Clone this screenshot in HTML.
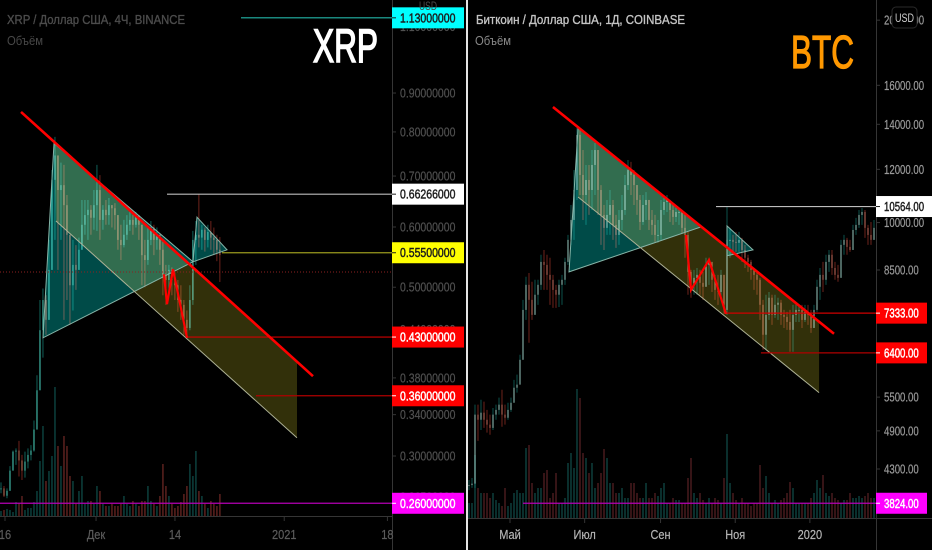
<!DOCTYPE html>
<html lang="ru">
<head>
<meta charset="utf-8">
<title>XRP и BTC</title>
<style>
html,body{margin:0;padding:0;background:#000;width:932px;height:550px;overflow:hidden}
svg{display:block;font-family:"Liberation Sans","DejaVu Sans",sans-serif}
.blend{mix-blend-mode:screen}
</style>
</head>
<body>
<svg id="chart-root" width="932" height="550" viewBox="0 0 932 550" xmlns="http://www.w3.org/2000/svg">
  <defs>
    <clipPath id="clip-xrp"><rect x="0" y="0" width="392" height="516"/></clipPath>
    <clipPath id="clip-btc"><rect x="468" y="0" width="408" height="518"/></clipPath>
  </defs>
  <rect x="0" y="0" width="932" height="550" fill="#000"/>
  <g id="xrp-panel"></g>
  <g id="btc-panel"></g>
  <rect x="466" y="0" width="2" height="550" fill="#e4e4e4"/>

  <text x="7" y="24" font-size="13" fill="#4c4c4c" stroke="#4c4c4c" stroke-width="0.35" textLength="178" lengthAdjust="spacingAndGlyphs">XRP / Доллар США, 4Ч, BINANCE</text>
  <text x="7" y="45" font-size="13" fill="#484848" textLength="36" lengthAdjust="spacingAndGlyphs">Объём</text>
  <text x="313" y="62" font-size="47" fill="#fff" stroke="#fff" stroke-width="1.6" textLength="65" lengthAdjust="spacingAndGlyphs">XRP</text>

  <text x="476" y="24" font-size="13" fill="#c4c4c4" stroke="#c4c4c4" stroke-width="0.35" textLength="209" lengthAdjust="spacingAndGlyphs">Биткоин / Доллар США, 1Д, COINBASE</text>
  <text x="475" y="45" font-size="13" fill="#8a8a8a" textLength="36" lengthAdjust="spacingAndGlyphs">Объём</text>
  <text x="791" y="68" font-size="46" fill="#ff9800" stroke="#ff9800" stroke-width="1.2" textLength="63" lengthAdjust="spacingAndGlyphs">BTC</text>

  <text x="419" y="10" font-size="12" fill="#4c4c4c" textLength="18" lengthAdjust="spacingAndGlyphs">USD</text>
  <g>
    <rect x="892" y="7" width="25" height="21" rx="4" fill="#000" stroke="#2a2a2a"/>
    <text x="895" y="22" font-size="12" fill="#cfcfcf" textLength="19" lengthAdjust="spacingAndGlyphs">USD</text>
  </g>
</svg>

<script>
// ===== XRP data (4H chart, sampled candles) =====
const xrpClose = [
.272,.266,.270,.287,.304,.305,.296,.287,.295,.301,
.305,.325,.366,.439,.481,.453,.527,.692,.745,.671,
.681,.641,.586,.503,.535,.527,.560,.604,.622,.632,
.617,.641,.671,.613,.632,.622,.641,.635,.622,.577,
.568,.586,.604,.613,.604,.622,.604,.551,.543,.577,
.599,.577,.586,.560,.519,.511,.527,.511,.503,.481,
.474,.453,.442,.481,.577,.586,.581,.595,.577,.591,
.581,.577,.560,.551];
const xrpHigh = [
.277,.274,.272,.291,.305,.307,.314,.301,.304,.307,
.310,.334,.383,.481,.498,.488,.577,.713,.788,.735,
.729,.724,.661,.577,.577,.568,.581,.651,.651,.651,
.641,.671,.724,.702,.641,.651,.655,.641,.645,.622,
.604,.613,.622,.628,.622,.628,.617,.604,.577,.599,
.611,.604,.599,.586,.577,.535,.535,.531,.523,.511,
.503,.481,.466,.503,.593,.611,.663,.604,.599,.604,
.611,.599,.586,.582];
const xrpLow = [
.268,.265,.264,.270,.287,.292,.282,.279,.281,.289,
.296,.304,.329,.396,.404,.433,.453,.527,.577,.527,
.577,.453,.481,.446,.466,.496,.527,.568,.586,.577,
.586,.595,.593,.577,.595,.604,.604,.599,.595,.560,
.543,.564,.577,.593,.586,.599,.577,.503,.500,.535,
.568,.551,.560,.535,.488,.474,.496,.488,.481,.464,
.453,.433,.429,.439,.474,.535,.564,.560,.557,.564,
.560,.551,.541,.508];
const xrpVolume = [
5,6,7,6,4,14,13,20,6,8,
8,14,25,55,90,35,45,60,129,70,
50,80,70,40,35,12,25,40,12,15,
15,12,30,25,12,10,10,12,10,10,
12,20,12,10,15,12,10,15,15,30,
15,12,10,20,52,30,20,12,8,10,
14,22,30,52,40,65,25,20,12,8,
15,12,10,22];
const xrpPriceTicks = [1.1,0.9,0.8,0.7,0.6,0.5,0.44,0.38,0.34,0.3,0.265];
const xrpTimeLabels = ["16","Дек","14","2021","18"];
const xrpTimeDays = [0,15,28,46,63];
const xrpLevels = [1.13,0.66266,0.555,0.43,0.36,0.26];
const xrpLevelFromDays = [38.88,26.69,35.75,29.98,41.35,-1];
const xrpLevelNames = ["cyan","white","yellow","red-upper","red-lower","magenta"];
const xrpLastPrice = 0.5235;
const xrpTrendDays = [2.64,50.74];
const xrpTrendPrices = [0.850,0.382];
const xrpTriangleDays = [8.07,6.26,30.97];
const xrpTrianglePrices = [0.773,0.429,0.540];
const xrpChannelDays = [8.07,48.1,48.1,8.40];
const xrpChannelPrices = [0.773,0.399,0.317,0.611];
const xrpFlagDays = [31.63,36.57,30.97];
const xrpFlagPrices = [0.618,0.560,0.540];
const xrpZigzagDays = [26.19,26.69,27.68,29.98];
const xrpZigzagPrices = [0.520,0.475,0.528,0.429];

// ===== BTC data (1D chart, sampled candles) =====
const btcClose = [
4070,4090,5180,5090,5215,5090,5005,4950,5180,5265,
5360,5180,5125,5265,5395,5680,5740,6250,7415,8080,
7675,7290,7810,8080,8740,8650,8360,8220,7940,7810,
8080,8220,8740,9425,10090,11180,13500,11770,10990,11570,
11180,12180,12820,11180,10265,9820,10265,10620,9920,9585,
10090,10440,11370,11970,11770,11370,10805,10020,10620,10805,
10090,9920,9585,9585,10440,10730,10805,10440,10195,10370,
10370,9820,9585,8445,8080,8275,8360,8135,8025,8650,
8740,8220,7940,7885,8360,7415,9425,9425,9360,9330,
9425,9105,8865,8740,8505,8360,8220,7545,6810,7290,
7730,7290,7545,7600,7290,7240,7115,6925,7290,7415,
7415,7165,7365,7290,6970,7415,8025,8360,8220,8740,
8955,8560,8360,8275,9265,9425,9200,9105,9750,9920,
10265,10370,9820,9585,9425,9820];
const btcHigh = [
4141,4170,5360,5360,5450,5415,5265,5180,5300,5360,
5490,5640,5360,5395,5490,5835,5940,6360,7675,8305,
8415,8165,8220,8220,8955,9105,8955,8865,8360,8080,
8220,8360,8865,9585,10620,11970,13830,13730,12820,12180,
12180,12820,13130,12820,11370,10620,10805,11180,10805,10265,
10440,10990,11770,12390,12310,11970,11370,10990,10990,11100,
10805,10440,10265,10090,10805,10990,10990,10805,10620,10620,
10510,10370,10265,9685,8505,8505,8560,8505,8445,8865,
8865,8740,8360,8360,8505,8360,10585,9820,9585,9685,
9685,9490,9265,8955,8800,8560,8445,8275,7675,7810,
7885,7810,7810,7730,7675,7415,7365,7415,7545,7600,
7545,7545,7545,7545,7415,7545,8220,8560,8740,8955,
9105,9105,8740,8650,9425,9585,9490,9425,9920,10160,
10440,10510,10440,9920,10020,10090];
const btcLow = [
4000,4030,4030,4735,4915,4950,4870,4835,4915,5090,
5180,4970,5005,5090,5230,5545,5585,5940,6360,7165,
6625,7165,7415,7545,7940,7940,7940,7545,7465,7465,
7490,7545,8080,8650,9265,9425,10805,10990,10090,9920,
10265,10440,10990,10265,9265,9105,9585,9585,9425,9170,
9265,9750,10265,11180,10990,10620,10265,9750,9920,10090,
9750,9585,9360,9330,9425,10265,10370,10020,9920,10020,
9920,9650,8865,7810,7730,7810,7810,7810,7675,8080,
8080,7885,7675,7545,7675,7315,7290,8865,8955,9045,
9045,8740,8560,8445,8220,7940,7810,7165,6470,6470,
7165,7045,7215,7165,7045,6970,6925,6425,6425,7115,
7115,6970,7115,7045,6855,7165,7365,7675,7885,8080,
8445,8360,8220,8165,8360,8955,8955,9045,9105,9585,
9820,9920,9490,9265,9265,9425];
const btcVolume = [
15,15,63,30,25,25,25,20,25,18,
15,12,30,12,15,25,28,25,25,70,
73,35,25,30,30,45,48,20,25,45,
15,15,20,55,65,50,129,120,65,60,
45,55,30,35,45,69,60,35,35,25,
25,30,20,20,35,35,25,20,20,35,
20,20,25,22,30,35,15,15,20,18,
18,15,15,40,60,25,20,25,18,15,
20,15,20,18,15,40,84,35,25,18,
15,20,15,15,12,15,15,53,30,42,
25,15,18,15,18,20,25,36,30,15,
15,15,15,15,20,25,38,30,43,25,
22,25,20,18,15,18,18,25,20,20,
22,20,22,25,20,20];
const btcPriceTicks = [20000,16000,14000,12000,10000,8500,5500,4900,4300];
const btcTimeLabels = ["Май","Июл","Сен","Ноя","2020"];
const btcTimeDays = [0,61,123,184,245];
const btcLevels = [10564,7333,6400,3824];
const btcLevelFromDays = [168.3,176.5,205,10.6];
const btcLevelNames = ["white","red-upper","red-lower","magenta"];
const btcTrendDays = [35.1,264.7];
const btcTrendPrices = [14857,6833];
const btcTriangleDays = [55.6,48.2,156];
const btcTrianglePrices = [13830,8445,9850];
const btcChannelDays = [55.6,252.5,252.5,55.6];
const btcChannelPrices = [13830,7115,5585,10915];
const btcFlagDays = [177.3,198.5,177.3];
const btcFlagPrices = [9885,9105,8925];
const btcZigzagDays = [143.8,147.9,162.6,176.5];
const btcZigzagPrices = [9585,7940,8800,7315];

// ===== drawing =====
const NS = "http://www.w3.org/2000/svg";
const levelStyle = {
  "cyan":      {box:"#00ffff", text:"#1c1c1c", line:"#22b5a8"},
  "white":     {box:"#ffffff", text:"#1c1c1c", line:"#bdbdbd"},
  "yellow":    {box:"#ffff00", text:"#1c1c1c", line:"#9a9a1e"},
  "red-upper": {box:"#ff0000", text:"#ffffff", line:"#d00000"},
  "red-lower": {box:"#ff0000", text:"#ffffff", line:"#b00000"},
  "magenta":   {box:"#ff00ff", text:"#ffffff", line:"#b400b4"}
};
function node(parent, tag, attrs) {
  const el = document.createElementNS(NS, tag);
  for (const k in attrs) el.setAttribute(k, attrs[k]);
  parent.appendChild(el);
  return el;
}
function label(parent, x, y, str, size, color, anchor, sx, weight) {
  const el = node(parent, "text", {
    transform: "translate(" + x + "," + y + ") scale(" + sx + ",1)",
    "font-size": size, fill: color, "text-anchor": anchor,
    stroke: color, "stroke-width": weight
  });
  el.textContent = str;
  return el;
}
function pointsOf(days, prices, xs, ys) {
  return days.map(function (d, i) { return xs(d).toFixed(1) + "," + ys(prices[i]).toFixed(1); }).join(" ");
}

function drawPanel(c) {
  const root = document.getElementById(c.panelId);
  const xs = function (d) { return c.x0 + c.pxPerDay * d; };
  const ys = function (p) { return c.yRef - c.pxPerLog * Math.log(p / c.priceRef); };
  const vs = function (v) { return v * c.volScale; };

  const tickLayer = node(root, "g", {});
  
  
  c.priceTicks.forEach(function (p) {
    const t = node(tickLayer, "line", {x1: c.axisX, x2: c.axisX + 4, y1: ys(p), y2: ys(p), stroke: c.axisColor});
    
    
    const l = label(tickLayer, c.axisX + 8, ys(p) + 4.5, p.toFixed(c.decimals), 12.5, c.tickColor, "start", c.tickSx, 0.2);
    
    
  });

  const plot = node(root, "g", {"clip-path": "url(#" + c.clipId + ")"});
  
  

  c.volume.forEach(function (v, i) {
    const d = c.startDay + i * c.stepDay;
    const open = i ? c.close[i - 1] : c.close[i];
    const up = c.close[i] >= open;
    const bar = node(plot, "rect", {
      x: xs(d) - c.volWidth / 2, y: c.baseY - vs(v), width: c.volWidth, height: vs(v),
      fill: up ? c.volUp : c.volDown
    });
    
    
  });

  c.close.forEach(function (cl, i) {
    const d = c.startDay + i * c.stepDay;
    const open = i ? c.close[i - 1] : cl;
    const up = cl >= open;
    const x = xs(d);
    const wick = node(plot, "line", {x1: x, x2: x, y1: ys(c.high[i]), y2: ys(c.low[i]), stroke: up ? c.wickUp : c.wickDown, "stroke-width": 0.8});
    
    
    const top = Math.min(ys(open), ys(cl));
    const h = Math.max(1, Math.abs(ys(open) - ys(cl)));
    const body = node(plot, "rect", {x: x - 0.6, y: top, width: 1.2, height: h, fill: up ? c.bodyUp : c.bodyDown});
    
    
  });

  const channel = node(plot, "polygon", {points: pointsOf(c.channelDays, c.channelPrices, xs, ys), fill: "#32300a", "class": "blend"});
  
  
  const tri = node(plot, "polygon", {points: pointsOf(c.triangleDays, c.trianglePrices, xs, ys), fill: "#004b48", "class": "blend"});
  
  
  const flag = node(plot, "polygon", {points: pointsOf(c.flagDays, c.flagPrices, xs, ys), fill: "#004b48", "class": "blend"});
  
  

  const triEdge = node(plot, "polygon", {points: pointsOf(c.triangleDays, c.trianglePrices, xs, ys), fill: "none", stroke: "#86b5a8", "stroke-width": 1});
  
  
  const flagEdge = node(plot, "polygon", {points: pointsOf(c.flagDays, c.flagPrices, xs, ys), fill: "none", stroke: "#86b5a8", "stroke-width": 1});
  
  
  const chEdge = node(plot, "line", {
    x1: xs(c.channelDays[3]), y1: ys(c.channelPrices[3]),
    x2: xs(c.channelDays[2]), y2: ys(c.channelPrices[2]),
    stroke: "#aeb296", "stroke-width": 1
  });
  
  

  if (c.lastPrice) {
    const last = node(plot, "line", {x1: 0, x2: c.axisX, y1: ys(c.lastPrice), y2: ys(c.lastPrice), stroke: "#8c2020", "stroke-width": 1, "stroke-dasharray": "1 2"});
    
    
  }

  c.levels.forEach(function (p, i) {
    const st = levelStyle[c.levelNames[i]];
    const ln = node(plot, "line", {x1: xs(c.levelFrom[i]), x2: c.axisX, y1: ys(p), y2: ys(p), stroke: st.line, "stroke-width": 1.2});
    
    
  });

  const trend = node(plot, "line", {
    x1: xs(c.trendDays[0]), y1: ys(c.trendPrices[0]),
    x2: xs(c.trendDays[1]), y2: ys(c.trendPrices[1]),
    stroke: "#ff0000", "stroke-width": 2.6
  });
  
  
  const zig = node(plot, "polyline", {points: pointsOf(c.zigzagDays, c.zigzagPrices, xs, ys), fill: "none", stroke: "#ff0000", "stroke-width": 2.2});
  
  

  const vAxis = node(root, "line", {x1: c.axisX + .5, x2: c.axisX + .5, y1: 0, y2: 550, stroke: c.axisColor});
  
  
  const hAxis = node(root, "line", {x1: c.panelLeft, x2: c.panelRight, y1: c.baseY + .5, y2: c.baseY + .5, stroke: c.axisColor});
  
  

  c.timeDays.forEach(function (d, i) {
    const m = node(root, "line", {x1: xs(d), x2: xs(d), y1: c.baseY, y2: c.baseY + 5, stroke: c.axisColor});
    
    
    const l = label(root, xs(d), 539, c.timeLabels[i], 12.5, c.timeColor, "middle", 0.88, 0.2);
    
    
  });

  c.levels.forEach(function (p, i) {
    const st = levelStyle[c.levelNames[i]];
    const y = ys(p);
    const box = node(root, "rect", {x: c.axisX, y: y - 10.5, width: c.labelWidths[i], height: 21, fill: st.box});
    
    
    const dash = node(root, "line", {x1: c.axisX, x2: c.axisX + 4, y1: y, y2: y, stroke: st.text});
    
    
    const t = label(root, c.axisX + 8, y + 4.5, p.toFixed(c.decimals), 12.5, st.text, "start", c.tickSx, 0.45);
    
    
  });
}

drawPanel({
  key: "xrp", panelId: "xrp-panel", clipId: "clip-xrp",
  close: xrpClose, high: xrpHigh, low: xrpLow, volume: xrpVolume,
  priceTicks: xrpPriceTicks, timeLabels: xrpTimeLabels, timeDays: xrpTimeDays,
  levels: xrpLevels, levelFrom: xrpLevelFromDays, levelNames: xrpLevelNames,
  lastPrice: xrpLastPrice,
  trendDays: xrpTrendDays, trendPrices: xrpTrendPrices,
  triangleDays: xrpTriangleDays, trianglePrices: xrpTrianglePrices,
  channelDays: xrpChannelDays, channelPrices: xrpChannelPrices,
  flagDays: xrpFlagDays, flagPrices: xrpFlagPrices,
  zigzagDays: xrpZigzagDays, zigzagPrices: xrpZigzagPrices,
  x0: 5, pxPerDay: 6.07, startDay: -0.66, stepDay: 0.494,
  yRef: 456, priceRef: 0.3, pxPerLog: 330.4, volScale: 1,
  baseY: 516, axisX: 392, panelLeft: 0, panelRight: 392, decimals: 8,
  labelWidths: [72,72,72,72,72,72], tickSx: 0.84, volWidth: 1.5,
  volUp: "#0c403d", volDown: "#5c211e",
  wickUp: "#14786e", wickDown: "#8a2c22", bodyUp: "#3fb3a2", bodyDown: "#a8604a",
  axisColor: "#353535", tickColor: "#505050", timeColor: "#5c5c5c"
});
drawPanel({
  key: "btc", panelId: "btc-panel", clipId: "clip-btc",
  close: btcClose, high: btcHigh, low: btcLow, volume: btcVolume,
  priceTicks: btcPriceTicks, timeLabels: btcTimeLabels, timeDays: btcTimeDays,
  levels: btcLevels, levelFrom: btcLevelFromDays, levelNames: btcLevelNames,
  lastPrice: 0,
  trendDays: btcTrendDays, trendPrices: btcTrendPrices,
  triangleDays: btcTriangleDays, trianglePrices: btcTrianglePrices,
  channelDays: btcChannelDays, channelPrices: btcChannelPrices,
  flagDays: btcFlagDays, flagPrices: btcFlagPrices,
  zigzagDays: btcZigzagDays, zigzagPrices: btcZigzagPrices,
  x0: 510, pxPerDay: 1.224, startDay: -33.5, stepDay: 2.451,
  yRef: 469, priceRef: 4300, pxPerLog: 292, volScale: 1,
  baseY: 518, axisX: 876, panelLeft: 468, panelRight: 932, decimals: 2,
  labelWidths: [56,51,51,51], tickSx: 0.77, volWidth: 2,
  volUp: "#0a2f2d", volDown: "#361416",
  wickUp: "#0f665e", wickDown: "#8a2c22", bodyUp: "#7fa8a0", bodyDown: "#a85a4c",
  axisColor: "#353535", tickColor: "#9a9a9a", timeColor: "#b4b4b4"
});
</script>
</body>
</html>
